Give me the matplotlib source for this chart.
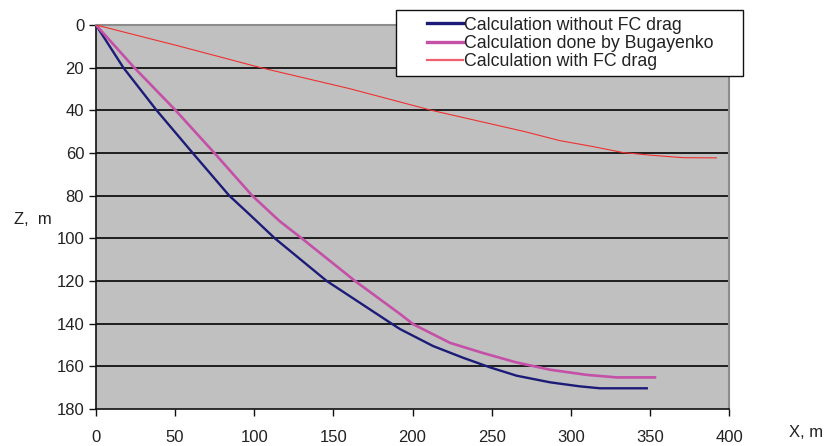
import matplotlib.pyplot as plt
from matplotlib.lines import Line2D
from matplotlib.patches import Rectangle

# trajectory without FC drag
x_nodrag = [0, 17.3, 38.3, 61.1, 84.2, 97.3, 113, 145.8, 186.8, 192, 213, 232,
            249, 265.8, 286.9, 305.8, 318.5, 348]
z_nodrag = [0, 20, 40, 60, 80, 89, 100, 120, 140, 142.5, 150.5, 156,
            160.5, 164.4, 167.5, 169.4, 170.3, 170.3]

# Bugayenko
x_bug = [0, 24.2, 50.3, 74.8, 98.7, 111.7, 116.3, 130, 163.7, 192, 200.5, 223.7,
         244.7, 265.8, 286.9, 310, 329, 353.2]
z_bug = [0, 20, 40, 60, 80, 89, 92.1, 100, 120, 135.4, 140.3, 149,
         153.8, 158.2, 161.6, 164, 165.2, 165.2]

# with FC drag
x_fc = [0, 52, 104, 160, 212, 271, 293, 314, 333, 350, 371, 392]
z_fc = [0, 9.8, 20, 29.8, 40, 50, 54.2, 57, 59.8, 61, 62.2, 62.3]

yticks = list(range(0, 181, 20))
xticks = list(range(0, 401, 50))
labels = ['Calculation without FC drag', 'Calculation done by Bugayenko',
          'Calculation with FC drag']

plt.rcParams['font.family'] = ['Liberation Sans', 'DejaVu Sans']

fig = plt.figure(figsize=(8.26, 4.46), dpi=100)
ax = fig.add_axes([0.1162, 0.083, 0.7664, 0.861])
ax.set_facecolor('#c0c0c0')

for t in yticks[1:-1]:
    ax.axhline(t, color='#111111', linewidth=1.3, zorder=1)

ax.plot(x_nodrag, z_nodrag, color='#1c1c78', linewidth=1.7, zorder=3)
ax.plot(x_bug, z_bug, color='#c450a8', linewidth=1.9, zorder=3)
ax.plot(x_fc, z_fc, color='#f03030', linewidth=0.8, zorder=3)

ax.set_xlim(0, 400)
ax.set_ylim(180, 0)
ax.set_xticks(xticks)
ax.set_yticks(yticks)
ax.tick_params(axis='both', direction='out', length=5, width=1, colors='#111111',
               labelcolor='#222222', labelsize=12)
ax.tick_params(axis='x', pad=10)

for s in ['left', 'bottom']:
    ax.spines[s].set_color('#111111')
    ax.spines[s].set_linewidth(1.2)
for s in ['top', 'right']:
    ax.spines[s].set_color('#8c8c8c')
    ax.spines[s].set_linewidth(1.5)

fig.text(0.017, 0.507, 'Z,  m', fontsize=12, color='#222222', va='center')
fig.text(0.955, 0.031, 'X, m', fontsize=12, color='#222222', va='center')

# legend box
box = Rectangle((0.4794, 0.8296), 0.4201, 0.148, transform=fig.transFigure,
                facecolor='white', edgecolor='#111111', linewidth=1.0, zorder=5)
fig.patches.append(box)

handles = [Line2D([], [], color='#1c1c78', linewidth=2.4),
           Line2D([], [], color='#c450a8', linewidth=2.4),
           Line2D([], [], color='#f06070', linewidth=1.6)]
leg = fig.legend(handles, labels, loc='upper left', bbox_to_anchor=(0.517, 0.963),
                 fontsize=12.8, frameon=False, handlelength=2.0,
                 handletextpad=0.1, labelspacing=0.08, borderpad=0,
                 borderaxespad=0)
leg.set_zorder(6)
for t in leg.get_texts():
    t.set_color('#222222')

fig.savefig('out.png', dpi=100)
